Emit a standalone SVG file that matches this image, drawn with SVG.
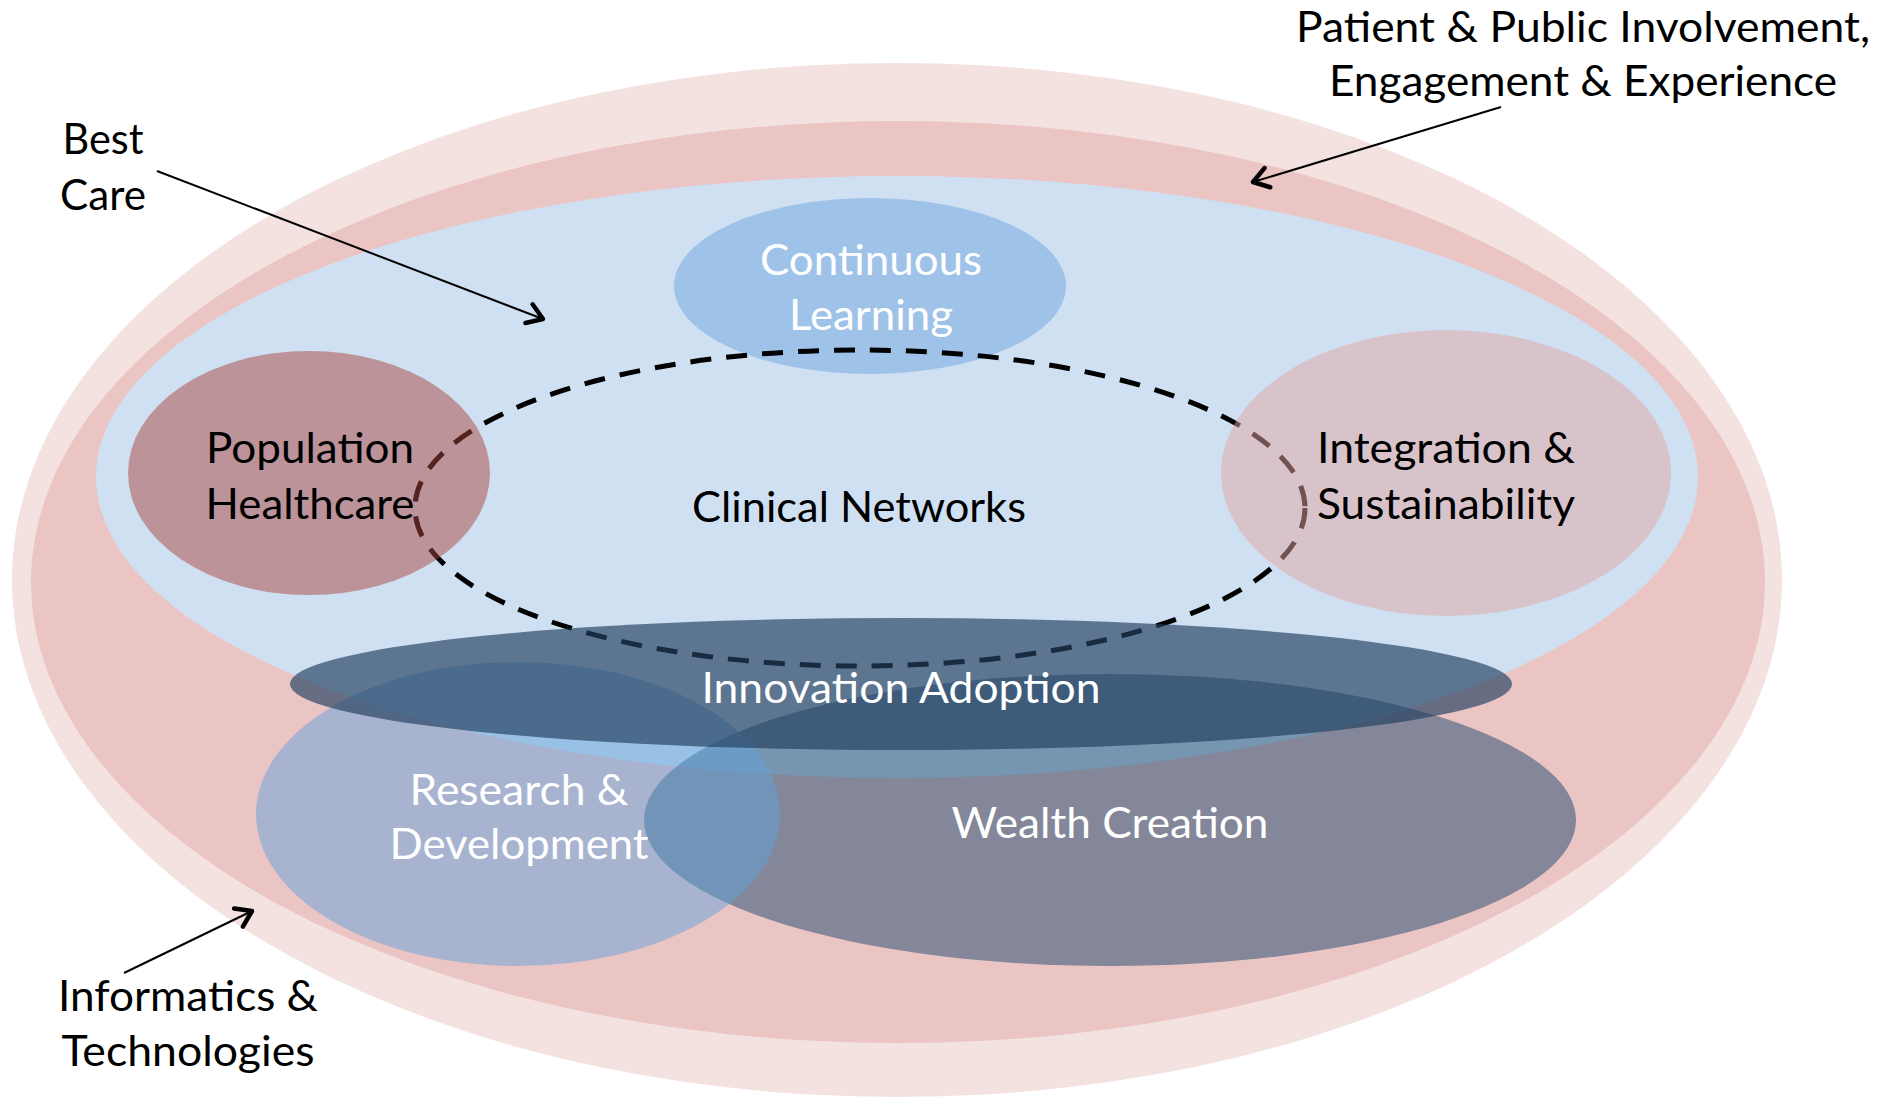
<svg xmlns="http://www.w3.org/2000/svg" width="1878" height="1099" viewBox="0 0 1878 1099">
  <style>
    .lbl { font-family: Lato, "Liberation Sans", sans-serif; font-size: 42px; fill: #000; }
    .wht { font-family: Lato, "Liberation Sans", sans-serif; font-size: 42px; fill: #fff; }
    .conn { fill: none; stroke: #000; stroke-width: 2; }
  </style>
  <defs>
    <marker id="arrow" markerUnits="userSpaceOnUse" markerWidth="40" markerHeight="40" viewBox="-20 -20 40 40" refX="0" refY="0" orient="auto">
      <path d="M -15 -10 L 0 0 L -15 10" fill="none" stroke="#000" stroke-width="4.5" stroke-linecap="round" stroke-linejoin="round"/>
    </marker>
  </defs>
  <rect width="1878" height="1099" fill="#ffffff"/>

  <g id="informatics-technologies">
    <ellipse cx="897" cy="580" rx="885" ry="517" fill="#f4e2e1"/>
    <text class="lbl" x="188" y="1011" text-anchor="middle" textLength="260" lengthAdjust="spacingAndGlyphs">Informatics &amp;</text>
    <text class="lbl" x="188" y="1066" text-anchor="middle" textLength="253" lengthAdjust="spacingAndGlyphs">Technologies</text>
  </g>

  <g id="patient-public-involvement">
    <ellipse cx="898" cy="582" rx="867" ry="461" fill="#ebc5c4"/>
    <text class="lbl" x="1583" y="42" text-anchor="middle" textLength="574" lengthAdjust="spacingAndGlyphs">Patient &amp; Public Involvement,</text>
    <text class="lbl" x="1583" y="96" text-anchor="middle" textLength="508" lengthAdjust="spacingAndGlyphs">Engagement &amp; Experience</text>
  </g>

  <g id="best-care">
    <ellipse cx="897" cy="477" rx="801" ry="301" fill="#cfe0f2"/>
    <text class="lbl" x="103" y="154" text-anchor="middle" textLength="81" lengthAdjust="spacingAndGlyphs">Best</text>
    <text class="lbl" x="103" y="210" text-anchor="middle" textLength="86" lengthAdjust="spacingAndGlyphs">Care</text>
  </g>

  <g id="continuous-learning">
    <ellipse cx="870" cy="286" rx="196" ry="88" fill="#9fc2e9"/>
    <text class="wht" x="871" y="275" text-anchor="middle" textLength="222" lengthAdjust="spacingAndGlyphs">Continuous</text>
    <text class="wht" x="871" y="330" text-anchor="middle" textLength="164" lengthAdjust="spacingAndGlyphs">Learning</text>
  </g>

  <g id="clinical-networks">
    <ellipse cx="860" cy="508" rx="445" ry="158" fill="none" stroke="#000" stroke-width="5" stroke-dasharray="21 15"/>
    <text class="lbl" x="859" y="522" text-anchor="middle" textLength="334" lengthAdjust="spacingAndGlyphs">Clinical Networks</text>
  </g>

  <g id="population-healthcare">
    <ellipse cx="309" cy="473" rx="181" ry="122" fill="#a9463e" fill-opacity="0.5"/>
    <text class="lbl" x="310" y="463" text-anchor="middle" textLength="208" lengthAdjust="spacingAndGlyphs">Population</text>
    <text class="lbl" x="310" y="519" text-anchor="middle" textLength="209" lengthAdjust="spacingAndGlyphs">Healthcare</text>
  </g>

  <g id="integration-sustainability">
    <ellipse cx="1446" cy="473" rx="225" ry="143" fill="#e3a6a2" fill-opacity="0.5"/>
    <text class="lbl" x="1446" y="463" text-anchor="middle" textLength="258" lengthAdjust="spacingAndGlyphs">Integration &amp;</text>
    <text class="lbl" x="1446" y="519" text-anchor="middle" textLength="258" lengthAdjust="spacingAndGlyphs">Sustainability</text>
  </g>

  <g id="wealth-creation">
    <ellipse cx="1110" cy="820" rx="466" ry="146" fill="#1b496e" fill-opacity="0.5"/>
    <text class="wht" x="1110" y="838" text-anchor="middle" textLength="317" lengthAdjust="spacingAndGlyphs">Wealth Creation</text>
  </g>

  <g id="research-development">
    <ellipse cx="518" cy="814" rx="262" ry="152" fill="#63a1da" fill-opacity="0.5"/>
    <text class="wht" x="519" y="805" text-anchor="middle" textLength="219" lengthAdjust="spacingAndGlyphs">Research &amp;</text>
    <text class="wht" x="519" y="859" text-anchor="middle" textLength="259" lengthAdjust="spacingAndGlyphs">Development</text>
  </g>

  <g id="innovation-adoption">
    <ellipse cx="901" cy="684" rx="611" ry="66" fill="#244060" fill-opacity="0.67"/>
    <text class="wht" x="901" y="703" text-anchor="middle" textLength="399" lengthAdjust="spacingAndGlyphs">Innovation Adoption</text>
  </g>

  <g id="connectors">
    <line class="conn" x1="157" y1="171" x2="543" y2="319" marker-end="url(#arrow)"/>
    <line class="conn" x1="1501" y1="107" x2="1253" y2="182" marker-end="url(#arrow)"/>
    <line class="conn" x1="124" y1="973" x2="252" y2="911" marker-end="url(#arrow)"/>
  </g>
</svg>
